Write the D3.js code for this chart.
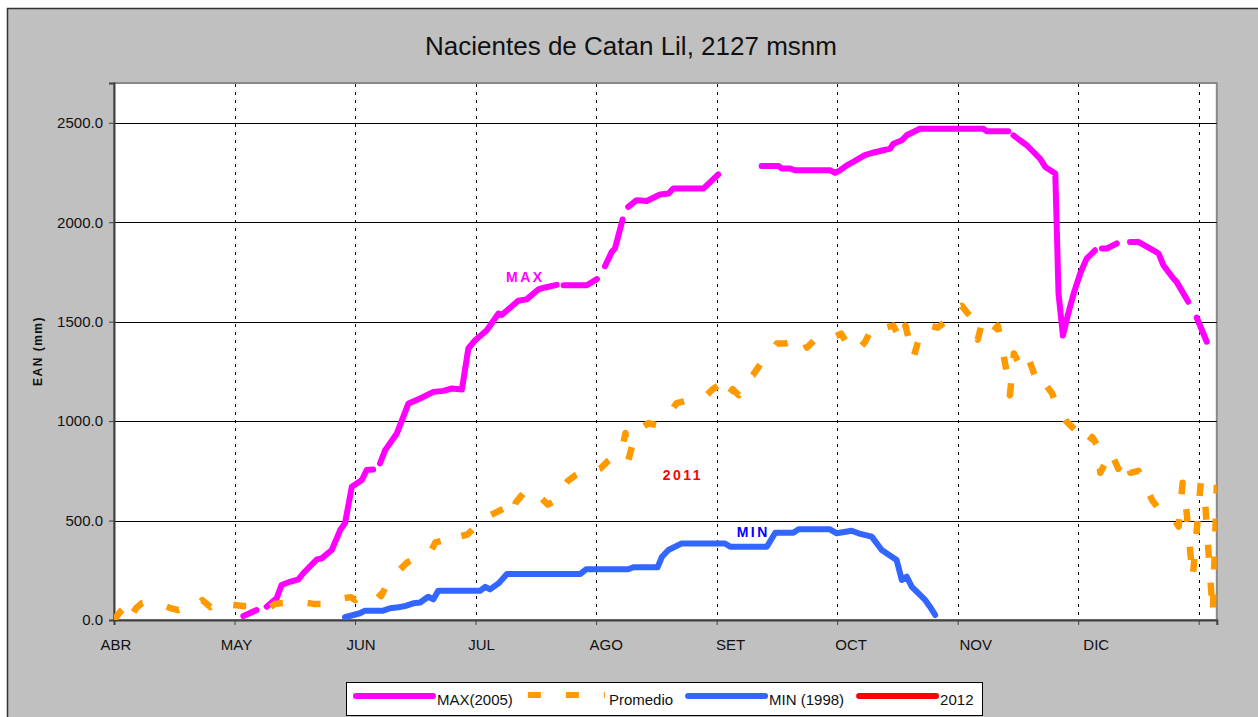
<!DOCTYPE html>
<html lang="es">
<head>
<meta charset="UTF-8">
<title>Nacientes de Catan Lil, 2127 msnm</title>
<script src="https://d3js.org/d3.v7.min.js"></script>
<style>
  body { margin: 0; background: #fff; }
  svg { font-family: "Liberation Sans", Arial, sans-serif; }
</style>
</head>
<body>
<div id="chart"></div>
<script>
// dias contados desde el 1 de abril, valores en mm (null = sin dato)
var maxDays = [32.2, 35.5, 36.5, 38.0, 40.5, 41.7, 43.8, 45.9, 47.1, 50.5, 51.7, 54.2, 56.3, 57.5, 59.2, 61.7, 62.9, 64.5, 65.3,
  66.2, 67.5, 70.4, 73.3, 76.2, 79.5, 82.0, 84.1, 86.6, 88.2, 89.9, 92.8, 95.7, 96.5, 100.6, 102.7, 105.6, 107.3, 110.2, 111.0,
  111.9, 117.7, 120.2, 121.2, 122.2, 123.9, 124.7, 126.6, 127.3, 128.0, 130.1, 132.6, 135.9, 138.0, 139.2, 146.7, 150.4, 155.0,
  161.2, 165.4, 166.2, 168.3, 169.5, 178.2, 179.5, 180.7, 182.4, 184.0, 186.9, 188.6, 191.5, 193.2, 194.0, 196.1, 197.3, 200.6,
  216.4, 217.3, 222.6, 223.2, 223.9, 225.5, 227.2, 230.5, 231.8, 234.3, 235.1, 236.2, 237.5, 239.0, 240.5, 242.1, 244.2, 245.0,
  245.9, 247.1, 249.6, 251.0, 252.9, 255.0, 258.7, 260.0, 261.2, 263.7, 264.5, 267.4, 268.5, 269.5, 272.0];
var maxVals = [20, 50, null, 67, 110, 176, 192, 204, 235, 305, 310, 352, 452, 486, 670, 704, 754, 757, null,
  787, 854, 938, 1089, 1114, 1147, 1152, 1164, 1159, 1365, 1407, 1457, 1541, 1533, 1605, 1612, 1662, 1672, 1685, null,
  1683, 1683, 1714, null, 1779, 1851, 1868, 2014, null, 2077, 2111, 2107, 2139, 2144, 2169, 2169, 2240, null,
  2283, 2283, 2270, 2270, 2261, 2261, 2248, 2261, 2286, 2303, 2337, 2348, 2362, 2370, 2395, 2412, 2437, 2470,
  2470, 2457, 2457, null, 2437, 2412, 2387, 2320, 2278, 2245, 1642, 1430, 1540, 1650, 1742, 1817, 1859, null,
  1868, 1868, 1893, null, 1901, 1901, 1859, 1843, 1784, 1717, 1700, 1600, null, 1521, 1399];

var promDays = [0, 1.5, 3, 4, 5.5, 7, 10, 12, 14, 16, 18, 20, 22, 24, 26, 28, 30, 32, 35, 38.5, 40, 42, 45, 47, 50, 52,
  55, 57, 59, 60, 62, 65, 66.5, 68, 70, 73, 75, 77, 79, 80, 82, 84, 86, 88, 89.5, 91, 93, 95, 97, 99,
  100, 102, 104, 106, 108, 110, 111, 113, 115, 117, 119, 121, 123, 125, 126.5, 127.3, 128, 129, 131, 133, 135, 137, 139, 140,
  142, 145, 147, 149, 150.5, 152, 154, 155.5, 157, 159, 161, 163, 165, 167, 169, 171, 172.5, 175, 177, 179, 181, 183, 185,
  187, 188.5, 190, 192, 194, 196, 197, 199, 201, 203, 205, 207, 209, 211, 213, 215, 216, 218, 220, 222, 223, 224, 225, 227,
  229, 230.5, 232, 233.5, 235, 237, 240, 242, 243.5, 245, 245.5, 246.5, 248, 250, 251.5, 253, 255, 256.5, 258.5, 260, 261.5,
  263.5, 265, 266, 267, 268.5, 270.5, 271.5, 273.5, 274.5];
var promVals = [0, 40, 70, 10, 60, 85, 90, 75, 60, 50, 65, 60, 100, 65, 95, 80, 75, 70, 70, 60, 80, 85, 85, 90, 80, 80,
  100, 110, 115, 100, 130, 150, 120, 180, 230, 290, 310, 330, 350, 390, 400, 380, 420, 430, 460, 470, 520, 540, 560, 520,
  590, 640, 600, 620, 580, 600, 650, 700, 730, 750, 740, 760, 800, 830, 860, 940, 800, 880, 960, 990, 980, 1020, 1060, 1090,
  1100, 1110, 1120, 1160, 1180, 1110, 1160, 1130, 1200, 1230, 1290, 1330, 1390, 1390, 1400, 1430, 1370, 1420, 1430, 1420, 1440, 1370, 1350,
  1400, 1460, 1440, 1470, 1480, 1400, 1480, 1320, 1460, 1480, 1470, 1500, 1560, 1580, 1530, 1410, 1490, 1430, 1480, 1270, 1130, 1340, 1300, 1350,
  1240, 1160, 1180, 1140, 1060, 1000, 940, 880, 920, 870, 740, 780, 850, 760, 820, 740, 750, 680, 600, 560, 540,
  520, 470, 690, 540, 210, 690, 620, 30, 680];

var minDays = [57.5, 59.6, 61.2, 62.5, 67.0, 68.7, 70.8, 72.4, 74.5, 76.2, 78.2, 79.5, 80.7, 91.1, 92.4, 93.6, 95.7, 97.8,
  116.0, 117.5, 128.0, 129.3, 135.3, 136.4, 138.0, 141.3, 152.1, 153.4, 162.5, 164.6, 169.1, 170.4, 178.2, 179.9, 183.6,
  185.3, 188.6, 191.1, 194.8, 196.1, 197.3, 198.6, 201.9, 203.1, 204.4];
var minVals = [14, 25, 34, 47, 47, 59, 64, 70, 84, 88, 117, 104, 147, 147, 167, 154, 184, 231,
  231, 255, 255, 265, 265, 318, 352, 385, 385, 368, 368, 439, 439, 456, 456, 436, 449,
  436, 419, 352, 302, 201, 218, 167, 101, 67, 25];

var days2012 = [];
var vals2012 = [];

var seriesNames = ["MAX(2005)", "Promedio", "MIN (1998)", "2012"];
var seriesColors = ["#ff00ff", "#ff9900", "#3366ff", "#ff0000"];

var monthLabels = ["ABR", "MAY", "JUN", "JUL", "AGO", "SET", "OCT", "NOV", "DIC"];
var monthStart = [0, 30, 61, 91, 122, 153, 183, 214, 244];
var gridDays = [30, 60, 90, 120, 150, 180, 210, 240, 270];
var yTicks = [0, 500, 1000, 1500, 2000, 2500];

var notes = [
  {text: "MAX", day: 97.6, val: 1697, color: "#ff00ff"},
  {text: "2011", day: 136.6, val: 703, color: "#ff0000"},
  {text: "MIN", day: 155.0, val: 415, color: "#0000ff"}
];

var W = 1258, H = 717;
var svg = d3.select("#chart").append("svg")
    .attr("width", W)
    .attr("height", H);

// marco gris exterior
svg.append("rect")
    .attr("x", 7.5).attr("y", 8.5)
    .attr("width", W + 20).attr("height", H + 20)
    .attr("fill", "#c0c0c0")
    .attr("stroke", "#333")
    .attr("stroke-width", 1.5);

var x = d3.scaleLinear().domain([0, 274.5]).range([114, 1216.8]);
var y = d3.scaleLinear().domain([0, 2700]).range([620, 83]);

svg.append("rect")
    .attr("x", 114).attr("y", 83)
    .attr("width", 1216.8 - 114).attr("height", 620 - 83)
    .attr("fill", "#fff")
    .attr("stroke", "#888")
    .attr("stroke-width", 2);

// grilla
svg.append("g").selectAll("line")
    .data(yTicks.filter(d => d > 0))
    .join("line")
    .attr("x1", 114).attr("x2", 1216.8)
    .attr("y1", d => Math.round(y(d)) + 0.5)
    .attr("y2", d => Math.round(y(d)) + 0.5)
    .attr("stroke", "#000");

svg.append("g").selectAll("line")
    .data(gridDays)
    .join("line")
    .attr("x1", d => Math.round(x(d)) + 0.5)
    .attr("x2", d => Math.round(x(d)) + 0.5)
    .attr("y1", 84).attr("y2", 620)
    .attr("stroke", "#000")
    .attr("stroke-dasharray", "3,5");

// ejes
var yAxis = d3.axisLeft(y).tickValues(yTicks).tickSize(5).tickFormat(d3.format(".1f"));
var gy = svg.append("g").attr("transform", "translate(114,0)").call(yAxis);
gy.select(".domain").attr("stroke", "#404040").attr("stroke-width", 2);
gy.selectAll(".tick line").attr("stroke", "#404040");
gy.selectAll(".tick text")
    .attr("x", -11)
    .attr("font-size", "15px")
    .attr("font-family", "Liberation Sans, Arial, sans-serif")
    .attr("fill", "#111");

var xAxis = d3.axisBottom(x).tickValues([0].concat(gridDays)).tickSize(5).tickFormat("");
var gx = svg.append("g").attr("transform", "translate(0,620)").call(xAxis);
gx.select(".domain").attr("stroke", "#404040").attr("stroke-width", 2);
gx.selectAll(".tick line").attr("stroke", "#404040");

svg.append("g").selectAll("text")
    .data(monthLabels)
    .join("text")
    .attr("x", (d, i) => x(monthStart[i]) + 2)
    .attr("y", 650)
    .attr("text-anchor", "middle")
    .attr("font-size", "15px")
    .attr("fill", "#111")
    .text(d => d);

// series
svg.append("clipPath").attr("id", "plot")
  .append("rect")
    .attr("x", 114).attr("y", 83)
    .attr("width", 1216.8 - 114).attr("height", 620 - 83);

var line = d3.line()
    .defined(d => d.v !== null)
    .x(d => x(d.d))
    .y(d => y(d.v));

function pts(days, vals) {
  return days.map((d, i) => ({d: d, v: vals[i]}));
}

var plot = svg.append("g").attr("clip-path", "url(#plot)");

plot.append("path")
    .datum(pts(maxDays, maxVals))
    .attr("d", line)
    .attr("fill", "none")
    .attr("stroke", seriesColors[0])
    .attr("stroke-width", 6)
    .attr("stroke-linecap", "round")
    .attr("stroke-linejoin", "round");

plot.append("path")
    .datum(pts(promDays, promVals))
    .attr("d", line)
    .attr("fill", "none")
    .attr("stroke", seriesColors[1])
    .attr("stroke-width", 6.5)
    .attr("stroke-dasharray", "13,25")
    .attr("stroke-linejoin", "round");

plot.append("path")
    .datum(pts(minDays, minVals))
    .attr("d", line)
    .attr("fill", "none")
    .attr("stroke", seriesColors[2])
    .attr("stroke-width", 6)
    .attr("stroke-linecap", "round")
    .attr("stroke-linejoin", "round");

plot.append("path")
    .datum(pts(days2012, vals2012))
    .attr("d", line)
    .attr("fill", "none")
    .attr("stroke", seriesColors[3])
    .attr("stroke-width", 6);

// rotulos dentro del grafico
svg.append("g").selectAll("text")
    .data(notes)
    .join("text")
    .attr("x", d => x(d.day))
    .attr("y", d => y(d.val))
    .attr("font-size", "14px")
    .attr("font-weight", "bold")
    .attr("letter-spacing", "2.5px")
    .attr("fill", d => d.color)
    .text(d => d.text);

// titulo
svg.append("text")
    .attr("x", 631).attr("y", 55)
    .attr("text-anchor", "middle")
    .attr("font-size", "26px")
    .attr("fill", "#111")
    .text("Nacientes de Catan Lil, 2127 msnm");

svg.append("text")
    .attr("transform", "translate(42,351) rotate(-90)")
    .attr("text-anchor", "middle")
    .attr("font-size", "12px")
    .attr("font-weight", "bold")
    .attr("letter-spacing", "1.5px")
    .attr("fill", "#111")
    .text("EAN (mm)");

// leyenda
var legend = svg.append("g");
legend.append("rect")
    .attr("x", 346.5).attr("y", 682.5)
    .attr("width", 636).attr("height", 33)
    .attr("fill", "#fff")
    .attr("stroke", "#000");

var lx = 356;
seriesNames.forEach((name, i) => {
  var sym = legend.append("line")
      .attr("x1", lx).attr("x2", lx + 77)
      .attr("y1", 696).attr("y2", 696)
      .attr("stroke", seriesColors[i])
      .attr("stroke-width", 6);
  if (i === 1) {
    sym.attr("stroke-dasharray", "13,25").attr("y1", 695).attr("y2", 695);
  } else {
    sym.attr("stroke-linecap", "round");
  }
  var t = legend.append("text")
      .attr("x", lx + 81)
      .attr("y", 705)
      .attr("font-size", "15px")
      .attr("fill", "#111")
      .text(name);
  lx += 81 + t.node().getComputedTextLength() + 15;
});
</script>
</body>
</html>
